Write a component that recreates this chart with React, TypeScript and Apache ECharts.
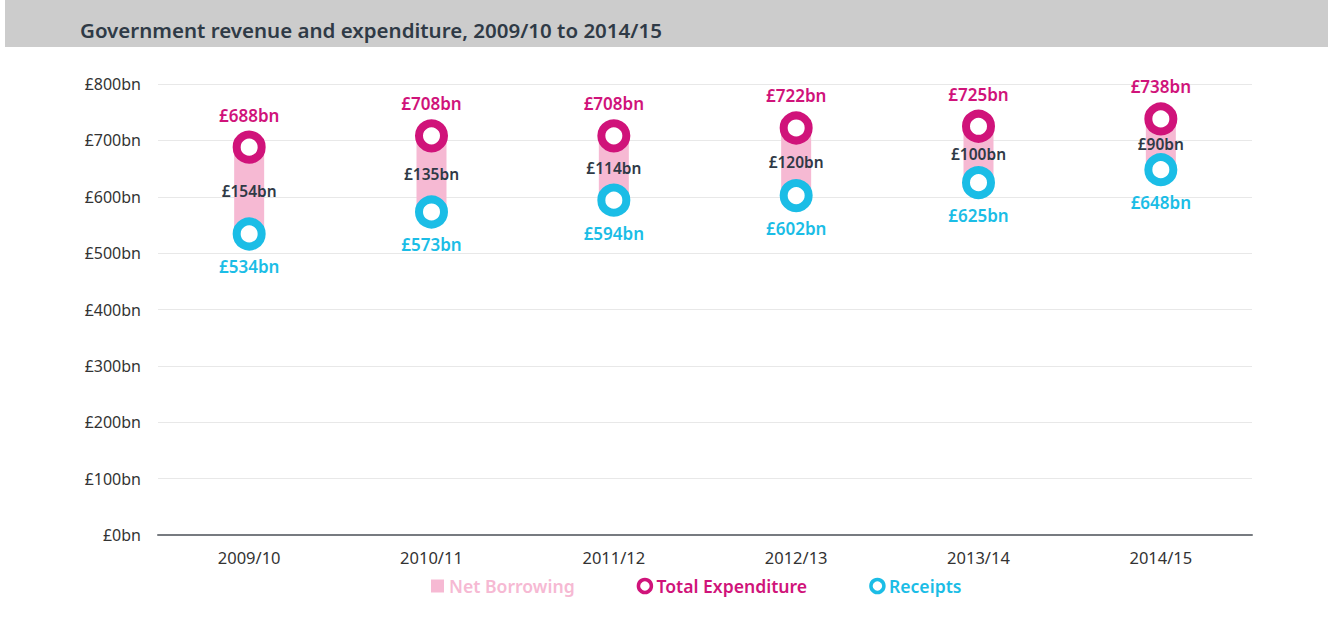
import React, { useEffect, useRef } from "react";
import * as echarts from "echarts";

const years = ["2009/10", "2010/11", "2011/12", "2012/13", "2013/14", "2014/15"];
const expenditure = [688, 708, 708, 722, 725, 738];
const receipts = [534, 573, 594, 602, 625, 648];
const netBorrowing = [154, 135, 114, 120, 100, 90];

const PINK = "#d0137a";
const CYAN = "#1bbde6";
const LIGHT_PINK = "#f6b9d3";
const DARK = "#2f3a46";
const FONT = "'Noto Sans', sans-serif";

export default function App() {
  const ref = useRef<HTMLDivElement>(null);
  useEffect(() => {
    document.body.style.margin = "0";
    const chart = echarts.init(ref.current!, undefined, { renderer: "svg" });
    chart.setOption({
      animation: false,
      textStyle: { fontFamily: FONT },
      graphic: [
        {
          type: "rect",
          shape: { x: 5, y: 0, width: 1323, height: 47 },
          style: { fill: "#cccccc" },
          z: -1,
        },
        {
          type: "text",
          x: 80,
          y: 30,
          style: {
            text: "Government revenue and expenditure, 2009/10 to 2014/15",
            fill: DARK,
            font: `600 20.5px ${FONT}`,
            verticalAlign: "middle",
          },
        },
      ],
      grid: { left: 158, right: 81, top: 84, bottom: 91 },
      legend: {
        left: 426,
        top: 572,
        itemGap: 62,
        itemWidth: 13,
        itemHeight: 13,
        textStyle: { fontSize: 17.6, fontWeight: 600, fontFamily: FONT },
        data: [
          {
            name: "Net Borrowing",
            icon: "rect",
            itemStyle: { color: LIGHT_PINK },
            textStyle: { color: LIGHT_PINK },
          },
          {
            name: "Total Expenditure",
            icon: "circle",
            itemStyle: { color: "#fff", borderColor: PINK, borderWidth: 3.5 },
            textStyle: { color: PINK },
          },
          {
            name: "Receipts",
            icon: "circle",
            itemStyle: { color: "#fff", borderColor: CYAN, borderWidth: 3.5 },
            textStyle: { color: CYAN },
          },
        ],
      },
      xAxis: {
        type: "category",
        data: years,
        axisLine: { lineStyle: { color: "#777b80", width: 2 } },
        axisTick: { show: false },
        axisLabel: { color: "#333", fontSize: 16.5, margin: 14 },
      },
      yAxis: {
        type: "value",
        min: 0,
        max: 800,
        interval: 100,
        axisLine: { show: false },
        axisTick: { show: false },
        splitLine: { lineStyle: { color: "#e8e8e8" } },
        axisLabel: {
          color: "#333",
          fontSize: 16,
          margin: 17,
          formatter: "£{value}bn",
        },
      },
      series: [
        {
          name: "base",
          type: "bar",
          stack: "nb",
          data: receipts,
          barWidth: 30,
          itemStyle: { color: "transparent" },
          silent: true,
        },
        {
          name: "Net Borrowing",
          type: "bar",
          stack: "nb",
          data: netBorrowing,
          barWidth: 30,
          itemStyle: { color: LIGHT_PINK },
          label: {
            show: true,
            position: "inside",
            color: DARK,
            fontSize: 15.5,
            fontWeight: 600,
            formatter: "£{c}bn",
          },
        },
        {
          name: "Total Expenditure",
          type: "scatter",
          data: expenditure,
          symbol: "circle",
          symbolSize: 25,
          itemStyle: { color: "#fff", borderColor: PINK, borderWidth: 8, opacity: 1 },
          label: {
            show: true,
            position: "top",
            distance: 7,
            color: PINK,
            fontSize: 17,
            fontWeight: 600,
            formatter: "£{c}bn",
          },
          z: 3,
        },
        {
          name: "Receipts",
          type: "scatter",
          data: receipts,
          symbol: "circle",
          symbolSize: 25,
          itemStyle: { color: "#fff", borderColor: CYAN, borderWidth: 8, opacity: 1 },
          label: {
            show: true,
            position: "bottom",
            distance: 8,
            color: CYAN,
            fontSize: 17,
            fontWeight: 600,
            formatter: "£{c}bn",
          },
          z: 3,
        },
      ],
    });
    return () => chart.dispose();
  }, []);
  return <div ref={ref} style={{ width: 1333, height: 626 }} />;
}
